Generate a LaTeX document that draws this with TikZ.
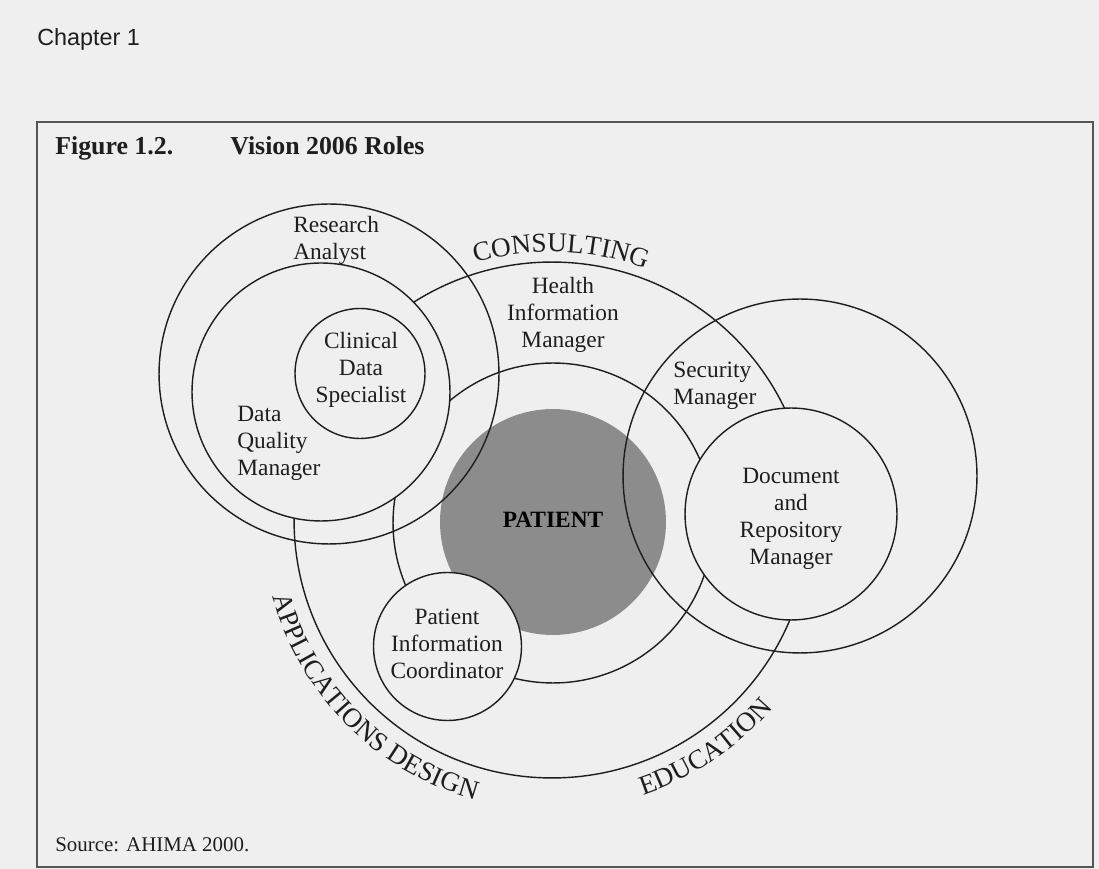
\documentclass[tikz,border=0pt]{standalone}
\usepackage{fontspec}
\setmainfont{Liberation Serif}
\newfontfamily\chapfont{Liberation Sans}
\usetikzlibrary{decorations.text,calc}
\definecolor{bg}{HTML}{EFEFEF}
\definecolor{ink}{HTML}{1E1E1E}
\definecolor{pat}{HTML}{8C8C8C}
\definecolor{framec}{HTML}{555555}
\begin{document}
\begin{tikzpicture}[x=0.02cm,y=0.02cm,
 ring/.style={circle, draw=ink, line width=0.8pt, inner sep=0pt},
 opaque/.style={ring, fill=bg},
 lbl/.style={font=\fontsize{13.3}{15.3}\selectfont, align=center, inner sep=0pt, text=ink},
 lbll/.style={lbl, align=left, anchor=west},
 plain/.style={anchor=base west, inner sep=0pt, text=ink},
 arctext/.style={decoration={text along path, text align=center, text color=ink}, postaction={decorate}}
]
\fill[bg] (0,0) rectangle (1099,869);
\useasboundingbox (0,0) rectangle (1099,869);
\draw[framec, line width=1.1pt] (37,2) rectangle (1093,747);

\node[plain, font=\chapfont\fontsize{13.3}{16}\selectfont] (chap) at (37,823) {Chapter 1};
\node[plain, font=\fontsize{14.7}{17}\selectfont\bfseries] (fig) at (55,714) {Figure 1.2.};
\node[plain, font=\fontsize{14.7}{17}\selectfont\bfseries] (title) at (230,714) {Vision 2006 Roles};

% circles
\node[ring, minimum size=10.32cm] (consult) at (552,349) {};
\node[ring, minimum size=6.4cm] (him) at (553,346) {};
\node[circle, fill=pat, inner sep=0pt, minimum size=4.52cm] (patient) at (553,347) {};
\node[ring, minimum size=6.8cm] (research) at (329,495) {};
\node[ring, minimum size=7.08cm] (security) at (800,393) {};
\node[opaque, minimum size=5.16cm] (dq) at (321,477) {};
\node[opaque, minimum size=2.6cm] (clinical) at (360,495.5) {};
\node[opaque, minimum size=4.24cm] (document) at (791,355) {};
\node[opaque, minimum size=2.96cm] (pic) at (447.5,222.5) {};

% curved labels
\path[arctext, decoration={text={|\fontsize{15.5}{18}\selectfont|CONSULTING}}]
  ($(consult.center)+(128:268)$) arc[start angle=128, end angle=48, radius=268];
\path[arctext, decoration={text={|\fontsize{15.5}{18}\selectfont|APPLICATIONS DESIGN}}]
  ($(consult.center)+(165:290)$) arc[start angle=165, end angle=285, radius=290];
\path[arctext, decoration={text={|\fontsize{15.5}{18}\selectfont|EDUCATION}}]
  ($(consult.center)+(270:290)$) arc[start angle=270, end angle=338, radius=290];

% labels
\node[lbll] (ra) at (293,629) {Research\\Analyst};
\node[lbl] (cds) at (361,499) {Clinical\\Data\\Specialist};
\node[lbll] (dqm) at (237,426) {Data\\Quality\\Manager};
\node[lbl] (himl) at (563,554) {Health\\Information\\Manager};
\node[lbll] (sm) at (673,483.5) {Security\\Manager};
\node[lbl] (drm) at (791,350) {Document\\and\\Repository\\Manager};
\node[lbl, font=\fontsize{13.3}{15.3}\selectfont\bfseries, text=black] (pt) at (553,349) {PATIENT};
\node[lbl] (picl) at (447,225) {Patient\\Information\\Coordinator};
\node[plain, font=\fontsize{11.9}{14}\selectfont] (src) at (55,17) {Source: AHIMA 2000.};
\end{tikzpicture}
\end{document}
